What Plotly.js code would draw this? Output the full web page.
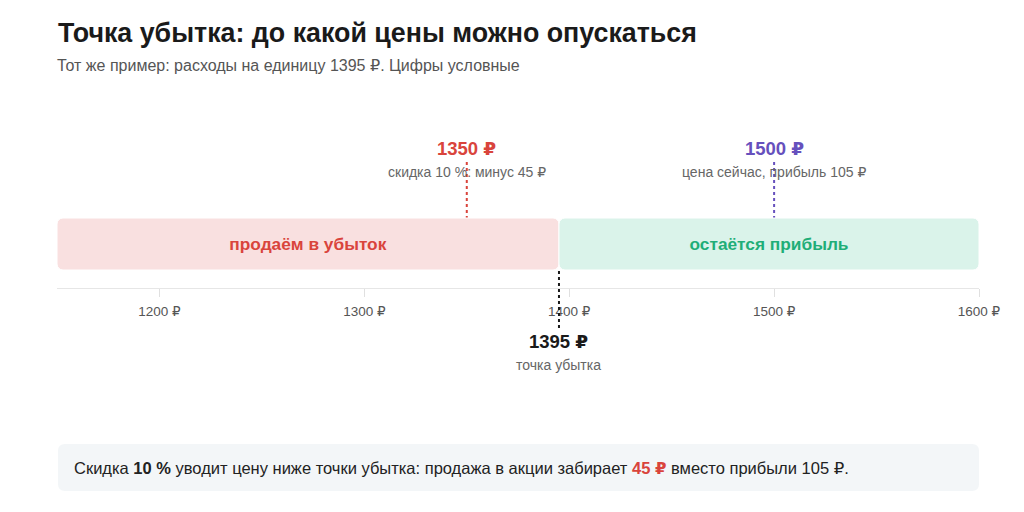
<!DOCTYPE html>
<html>
<head>
<meta charset="utf-8">
<script src="https://cdn.plot.ly/plotly-3.0.1.min.js"></script>
<style>html,body{margin:0;padding:0;background:#fff;}#chart{width:1024px;height:512px;}</style>
</head>
<body>
<div id="chart"></div>
<script>
// ---- data ----
const zoneLabels = ['продаём в убыток', 'остаётся прибыль'];
const zoneStart = [1150, 1395];
const zoneEnd = [1395, 1600];
const breakeven = 1395;
const promoPrice = 1350;
const currentPrice = 1500;
const tickValues = [1200, 1300, 1400, 1500, 1600];
const tickLabels = ['1200 ₽', '1300 ₽', '1400 ₽', '1500 ₽', '1600 ₽'];
const promoNote = 'скидка 10 %: минус 45 ₽';
const currentNote = 'цена сейчас, прибыль 105 ₽';
const breakevenNote = 'точка убытка';

// ---- layout helpers (pixel -> paper) ----
const W = 1024, H = 512;
const L = 57, R = 45, T = 100, B = 224;
const plotH = H - T - B; // 188
const plotW = W - L - R;
const py = Y => (H - B - Y) / plotH;
const px = X => (X - L) / plotW;

const FONT = '"Liberation Sans", Arial, "DejaVu Sans", sans-serif';
const RED = '#d9443c', GREEN = '#1fae78', PURPLE = '#6650bd', DARK = '#1a1a1a', GRAY = '#666666';

const bandY = py(244), bandW = 52 / plotH;

const trace = {
  type: 'bar', orientation: 'h',
  y: zoneLabels.map(() => bandY),
  base: zoneStart,
  x: zoneStart.map((s, i) => zoneEnd[i] - s),
  width: bandW,
  text: zoneLabels.map(t => '<b>' + t + '</b>'),
  textposition: 'inside', insidetextanchor: 'middle',
  textfont: { family: FONT, size: 17.3, color: [RED, GREEN] },
  marker: { color: ['#f9e0e0', '#daf3ea'], line: { color: '#ffffff', width: 1 }, cornerradius: 6 },
  hoverinfo: 'skip', showlegend: false
};

function roundedPaperRect(x0, y0, x1, y1, r) {
  const rx = r / plotW, ry = r / plotH;
  const a = px(x0), b = px(x1), top = py(y0), bot = py(y1);
  return `M ${a + rx} ${top} L ${b - rx} ${top} Q ${b} ${top} ${b} ${top - ry} L ${b} ${bot + ry} Q ${b} ${bot} ${b - rx} ${bot} L ${a + rx} ${bot} Q ${a} ${bot} ${a} ${bot + ry} L ${a} ${top - ry} Q ${a} ${top} ${a + rx} ${top} Z`;
}

const shapes = [
  { type: 'line', xref: 'x', yref: 'paper', x0: promoPrice, x1: promoPrice, y0: py(162), y1: py(218), line: { color: RED, width: 2, dash: 'dot' }, layer: 'below' },
  { type: 'line', xref: 'x', yref: 'paper', x0: currentPrice, x1: currentPrice, y0: py(162), y1: py(218), line: { color: PURPLE, width: 2, dash: 'dot' }, layer: 'below' },
  { type: 'line', xref: 'x', yref: 'paper', x0: breakeven, x1: breakeven, y0: py(271), y1: py(331), line: { color: DARK, width: 2, dash: 'dot' } },
  { type: 'path', xref: 'paper', yref: 'paper', path: roundedPaperRect(58, 444, 979, 491, 7), fillcolor: '#f3f6f8', line: { width: 0 }, layer: 'below' }
];

const fmt = v => v + ' ₽';
const ann = (x, Y, text, size, color) => ({ xref: 'x', yref: 'paper', x: x, y: py(Y), xanchor: 'center', yanchor: 'middle', text: text, showarrow: false, font: { family: FONT, size: size, color: color } });
const annotations = [
  ann(promoPrice, 148, '<b>' + fmt(promoPrice) + '</b>', 18.5, RED),
  ann(promoPrice, 172, promoNote, 14, GRAY),
  ann(currentPrice, 148, '<b>' + fmt(currentPrice) + '</b>', 18.5, PURPLE),
  ann(currentPrice, 172, currentNote, 14, GRAY),
  ann(breakeven, 341, '<b>' + fmt(breakeven) + '</b>', 18.5, DARK),
  ann(breakeven, 365, breakevenNote, 14, GRAY),
  { xref: 'paper', yref: 'paper', x: px(55), y: py(66), xanchor: 'left', yanchor: 'middle', text: 'Тот же пример: расходы на единицу 1395 ₽. Цифры условные', showarrow: false, font: { family: FONT, size: 16, color: '#555555' } },
  { xref: 'paper', yref: 'paper', x: px(72), y: py(468), xanchor: 'left', yanchor: 'middle', showarrow: false,
    text: 'Скидка <b>10 %</b> уводит цену ниже точки убытка: продажа в акции забирает <b><span style="color:' + RED + '">45 ₽</span></b> вместо прибыли 105 ₽.',
    font: { family: FONT, size: 16.5, color: '#222222' } }
];

const layout = {
  width: W, height: H,
  margin: { l: L, r: R, t: T, b: B, pad: 0 },
  paper_bgcolor: '#ffffff', plot_bgcolor: '#ffffff',
  font: { family: FONT, color: '#333' },
  title: { text: '<b>Точка убытка: до какой цены можно опускаться</b>', xref: 'container', yref: 'container', x: 58 / W, xanchor: 'left', y: 1 - 33 / H, yanchor: 'middle', font: { family: FONT, size: 26.8, color: '#1a1a1a' } },
  xaxis: {
    range: [zoneStart[0], zoneEnd[zoneEnd.length - 1]],
    tickvals: tickValues, ticktext: tickLabels,
    showgrid: false, zeroline: false,
    showline: true, linecolor: '#e6e6e6', linewidth: 1,
    ticks: 'outside', ticklen: 8, tickcolor: '#e0e0e0', tickwidth: 1,
    ticklabelstandoff: 3,
    tickfont: { family: FONT, size: 13.5, color: '#555555' },
    fixedrange: true
  },
  yaxis: { range: [0, 1], visible: false, fixedrange: true },
  barmode: 'overlay',
  shapes: shapes,
  annotations: annotations,
  showlegend: false
};

Plotly.newPlot('chart', [trace], layout, { displayModeBar: false, staticPlot: true });
</script>
</body>
</html>
